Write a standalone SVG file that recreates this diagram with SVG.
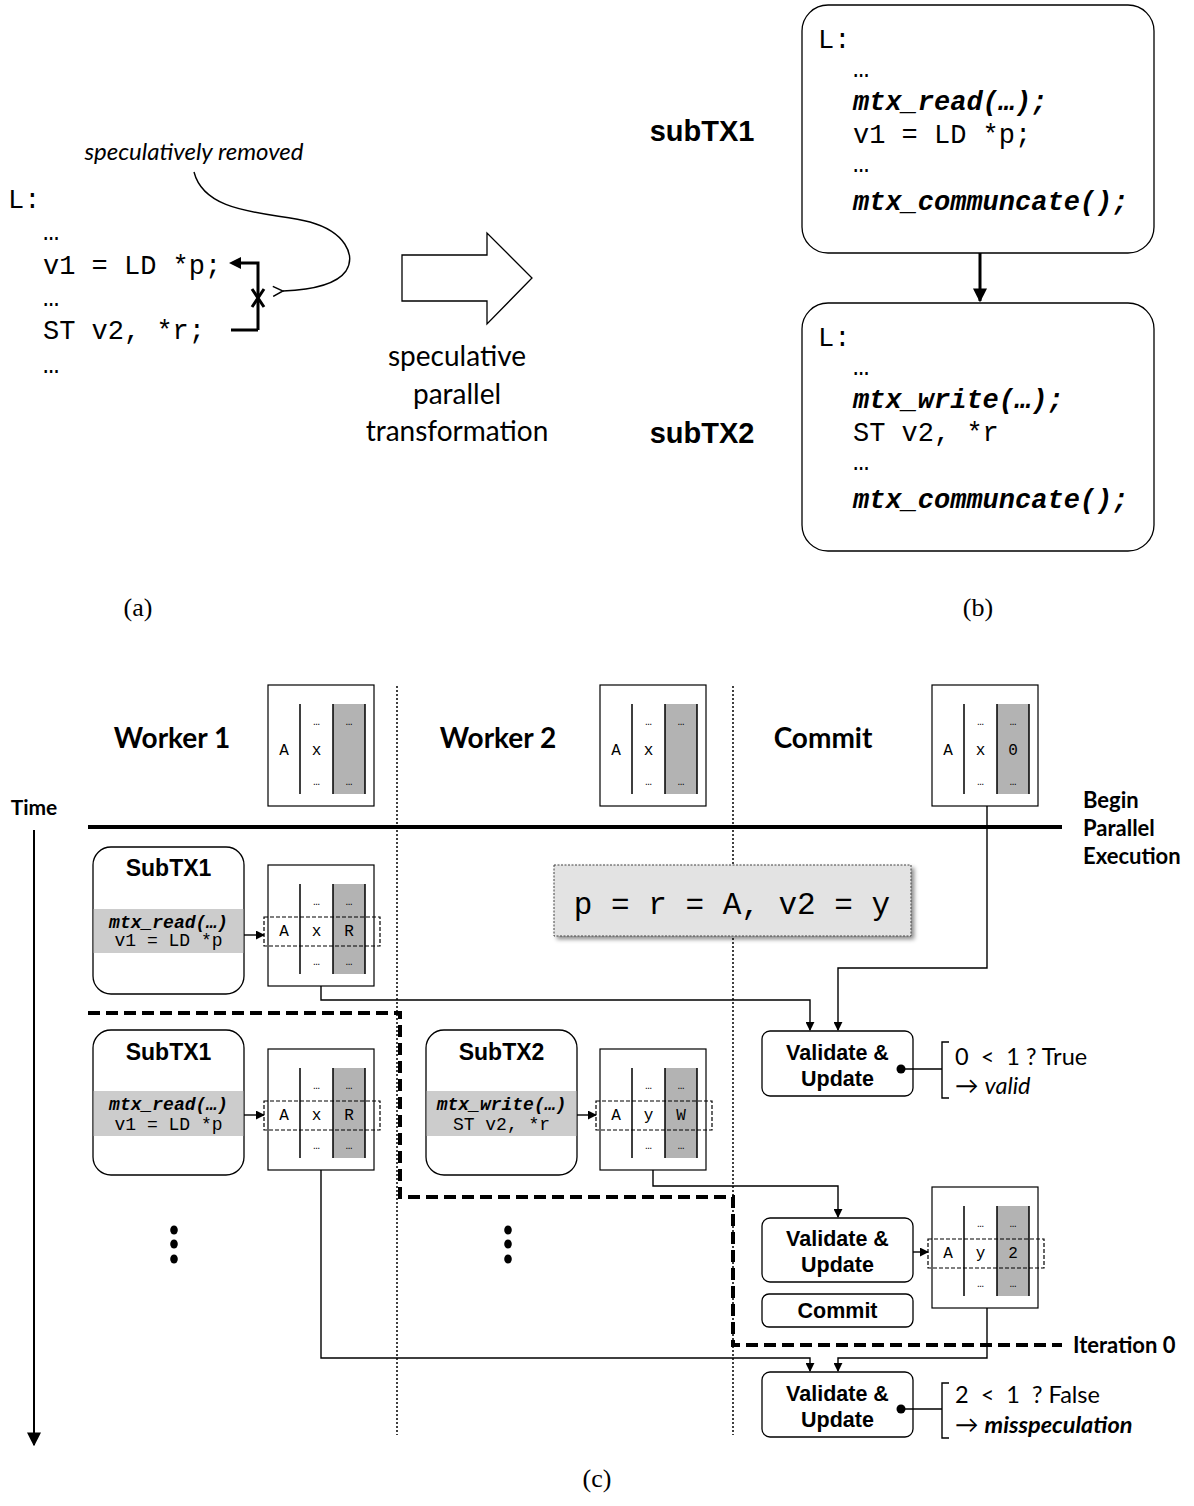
<svg xmlns="http://www.w3.org/2000/svg" xmlns:xlink="http://www.w3.org/1999/xlink" width="1194" height="1506" viewBox="0 0 1194 1506">
  <style>
    .code { font-family: "Liberation Mono", "Courier New", monospace; fill: #000; }
    .bi { font-weight: bold; font-style: italic; }
    .cal { font-family: Lato, "Open Sans", "DejaVu Sans", sans-serif; fill: #000; }
    .sans { font-family: "Liberation Sans", Arial, sans-serif; fill: #000; }
    .serif { font-family: "Liberation Serif", "Times New Roman", serif; fill: #000; }
    .cell { font-family: "Liberation Mono", "Courier New", monospace; font-size: 16px; text-anchor: middle; }
    .dots { font-family: "Liberation Mono", "Courier New", monospace; font-size: 11px; text-anchor: middle; }
    .box { fill: #fff; stroke: #000; stroke-width: 1.3; }
    .band { fill: #cccccc; }
    .line { fill: none; stroke: #000; stroke-width: 1.4; }
    .hl { fill: none; stroke: #000; stroke-width: 1.2; stroke-dasharray: 4 2; }
    .dotted { fill: none; stroke: #000; stroke-width: 1.5; stroke-dasharray: 2 2; }
    .mid { text-anchor: middle; }
  </style>
  <defs>
    <marker id="arr" viewBox="0 0 10 10" refX="9" refY="5" markerWidth="9" markerHeight="9" markerUnits="userSpaceOnUse" orient="auto">
      <path d="M0,0 L10,5 L0,10 z" fill="#000"/>
    </marker>
    <marker id="arrBig" viewBox="0 0 10 10" refX="9" refY="5" markerWidth="14" markerHeight="14" markerUnits="userSpaceOnUse" orient="auto">
      <path d="M0,0 L10,5 L0,10 z" fill="#000"/>
    </marker>
    <marker id="arrOpen" viewBox="0 0 12 12" refX="1" refY="6" markerWidth="12" markerHeight="12" markerUnits="userSpaceOnUse" orient="auto">
      <path d="M11,1 L1,6 L11,11" fill="none" stroke="#000" stroke-width="1.5"/>
    </marker>
    <filter id="shadow" x="-5%" y="-10%" width="115%" height="130%">
      <feDropShadow dx="3" dy="3" stdDeviation="2" flood-color="#000" flood-opacity="0.45"/>
    </filter>
    <!-- memory table frame: key | value | gray version column -->
    <g id="tblFrame">
      <rect x="0" y="0" width="106" height="121" fill="#fff" stroke="#000" stroke-width="1.2"/>
      <rect x="65" y="19" width="32" height="90" fill="#b3b3b3"/>
      <path d="M32,19V109 M65,19V109 M97,19V109" stroke="#000" stroke-width="1.5" fill="none"/>
      <text class="dots" x="48.5" y="40">…</text>
      <text class="dots" x="81" y="40">…</text>
      <text class="dots" x="48.5" y="100">…</text>
      <text class="dots" x="81" y="100">…</text>
    </g>
  </defs>

  <rect width="1194" height="1506" fill="#fff"/>

  <!-- ===== (a) original loop ===== -->
  <g id="code-a">
    <text class="code" font-size="27" x="8" y="208">L:</text>
    <text class="code" font-size="27" x="43" y="240">…</text>
    <text class="code" font-size="27" x="43" y="274">v1 = LD *p;</text>
    <text class="code" font-size="27" x="43" y="306">…</text>
    <text class="code" font-size="27" x="43" y="339">ST v2, *r;</text>
    <text class="code" font-size="27" x="43" y="373">…</text>
  </g>
  <g id="dependence-a">
    <path d="M258,330 H231 M258,330 V263 H240" fill="none" stroke="#000" stroke-width="3"/>
    <path d="M229,263 L241,257 L241,269 z" fill="#000"/>
    <path d="M252,289 L264,307 M264,289 L252,307" stroke="#000" stroke-width="3"/>
  </g>
  <g id="note-a">
    <text class="cal" font-size="24" font-style="italic" x="194" y="160" text-anchor="middle">speculatively removed</text>
    <path d="M194,172 C205,215 270,212 310,222 C345,232 356,255 346,271 C336,285 308,290 283,291" class="line" stroke-width="1.3" marker-end="url(#arrOpen)"/>
  </g>

  <!-- ===== transformation arrow ===== -->
  <g id="transform-arrow">
    <polygon points="402,255 487,255 487,233 532,278 487,324 487,301 402,301" fill="#fff" stroke="#000" stroke-width="1.3"/>
    <text class="cal mid" font-size="28" x="457" y="366">speculative</text>
    <text class="cal mid" font-size="28" x="457" y="404">parallel</text>
    <text class="cal mid" font-size="28" x="457" y="441">transformation</text>
  </g>

  <!-- ===== (b) split sub-transactions ===== -->
  <g id="label-subtx1">
    <text class="sans mid" font-size="29" font-weight="bold" x="702" y="141">subTX1</text>
  </g>
  <g id="label-subtx2">
    <text class="sans mid" font-size="29" font-weight="bold" x="702" y="443">subTX2</text>
  </g>
  <g id="subtx1-box">
    <rect class="box" x="802" y="5" width="352" height="248" rx="26"/>
    <text class="code" font-size="27" x="818" y="48">L:</text>
    <text class="code" font-size="27" x="853" y="77">…</text>
    <text class="code bi" font-size="27" x="853" y="110">mtx_read(…);</text>
    <text class="code" font-size="27" x="853" y="143">v1 = LD *p;</text>
    <text class="code" font-size="27" x="853" y="172">…</text>
    <text class="code bi" font-size="27" x="853" y="210">mtx_communcate();</text>
  </g>
  <g id="subtx2-box">
    <rect class="box" x="802" y="303" width="352" height="248" rx="26"/>
    <text class="code" font-size="27" x="818" y="346">L:</text>
    <text class="code" font-size="27" x="853" y="375">…</text>
    <text class="code bi" font-size="27" x="853" y="408">mtx_write(…);</text>
    <text class="code" font-size="27" x="853" y="441">ST v2, *r</text>
    <text class="code" font-size="27" x="853" y="470">…</text>
    <text class="code bi" font-size="27" x="853" y="508">mtx_communcate();</text>
  </g>

  <!-- captions -->
  <text class="serif mid" font-size="26" x="138" y="616">(a)</text>
  <text class="serif mid" font-size="26" x="978" y="616">(b)</text>
  <text class="serif mid" font-size="26" x="597" y="1487">(c)</text>

  <!-- ===== (c) execution timeline ===== -->
  <g id="lanes">
    <path class="dotted" d="M397,686 V1435 M733,686 V1435"/>
    <path d="M88,827 H1062" stroke="#000" stroke-width="4"/>
    <path d="M88,1013 H400 V1197 H733 V1345 H1062" fill="none" stroke="#000" stroke-width="4" stroke-dasharray="12 6"/>
  </g>

  <g id="headers">
    <text class="cal mid" font-size="28" font-weight="bold" x="172" y="748">Worker 1</text>
    <text class="cal mid" font-size="28" font-weight="bold" x="498" y="748">Worker 2</text>
    <text class="cal mid" font-size="28" font-weight="bold" x="823" y="748">Commit</text>
    <text class="cal mid" font-size="21" font-weight="bold" x="34" y="815">Time</text>
    <text class="cal" font-size="22" font-weight="bold" x="1083" y="808">Begin</text>
    <text class="cal" font-size="22" font-weight="bold" x="1083" y="836">Parallel</text>
    <text class="cal" font-size="22" font-weight="bold" x="1083" y="864">Execution</text>
    <text class="cal" font-size="22" font-weight="bold" x="1073" y="1353">Iteration 0</text>
  </g>

  <g id="w1-table-0" transform="translate(268,685)">
    <use xlink:href="#tblFrame"/>
    <text class="cell" x="16" y="70">A</text>
    <text class="cell" x="48.5" y="70">x</text>
  </g>
  <g id="w2-table-0" transform="translate(600,685)">
    <use xlink:href="#tblFrame"/>
    <text class="cell" x="16" y="70">A</text>
    <text class="cell" x="48.5" y="70">x</text>
  </g>
  <g id="commit-table-0" transform="translate(932,685)">
    <use xlink:href="#tblFrame"/>
    <text class="cell" x="16" y="70">A</text>
    <text class="cell" x="48.5" y="70">x</text>
    <text class="cell" x="81" y="70">0</text>
  </g>

  <g id="init-values">
    <rect x="554" y="865" width="357" height="71" fill="#e3e3e3" stroke="#444" stroke-width="1" stroke-dasharray="2 1.5" filter="url(#shadow)"/>
    <text class="code mid" font-size="31" x="732" y="914">p = r = A, v2 = y</text>
  </g>

  <!-- worker 1, first sub-transaction -->
  <g id="w1-subtx1-a">
    <rect class="box" x="93" y="847" width="151" height="147" rx="18"/>
    <rect class="band" x="93.7" y="909" width="149.6" height="44"/>
    <text class="sans mid" font-size="23" font-weight="bold" x="168.5" y="876">SubTX1</text>
    <text class="code bi mid" font-size="18" x="168.5" y="928">mtx_read(…)</text>
    <text class="code mid" font-size="18" x="168.5" y="946">v1 = LD *p</text>
  </g>
  <g id="w1-table-1" transform="translate(268,865)">
    <use xlink:href="#tblFrame"/>
    <rect class="hl" x="-4" y="52" width="116" height="29"/>
    <text class="cell" x="16" y="71">A</text>
    <text class="cell" x="48.5" y="71">x</text>
    <text class="cell" x="81" y="71">R</text>
  </g>

  <!-- second row -->
  <g id="w1-subtx1-b">
    <rect class="box" x="93" y="1030" width="151" height="145" rx="18"/>
    <rect class="band" x="93.7" y="1091" width="149.6" height="45"/>
    <text class="sans mid" font-size="23" font-weight="bold" x="168.5" y="1060">SubTX1</text>
    <text class="code bi mid" font-size="18" x="168.5" y="1110">mtx_read(…)</text>
    <text class="code mid" font-size="18" x="168.5" y="1130">v1 = LD *p</text>
  </g>
  <g id="w1-table-2" transform="translate(268,1049)">
    <use xlink:href="#tblFrame"/>
    <rect class="hl" x="-4" y="52" width="116" height="29"/>
    <text class="cell" x="16" y="71">A</text>
    <text class="cell" x="48.5" y="71">x</text>
    <text class="cell" x="81" y="71">R</text>
  </g>
  <g id="w2-subtx2">
    <rect class="box" x="426" y="1030" width="151" height="145" rx="18"/>
    <rect class="band" x="426.7" y="1091" width="149.6" height="45"/>
    <text class="sans mid" font-size="23" font-weight="bold" x="501.5" y="1060">SubTX2</text>
    <text class="code bi mid" font-size="18" x="501.5" y="1110">mtx_write(…)</text>
    <text class="code mid" font-size="18" x="501.5" y="1130">ST v2, *r</text>
  </g>
  <g id="w2-table-1" transform="translate(600,1049)">
    <use xlink:href="#tblFrame"/>
    <rect class="hl" x="-4" y="52" width="116" height="29"/>
    <text class="cell" x="16" y="71">A</text>
    <text class="cell" x="48.5" y="71">y</text>
    <text class="cell" x="81" y="71">W</text>
  </g>

  <!-- continuation marks -->
  <g id="w1-more">
    <ellipse cx="174" cy="1230" rx="3.8" ry="4.5"/>
    <ellipse cx="174" cy="1244" rx="3.8" ry="4.5"/>
    <ellipse cx="174" cy="1259" rx="3.8" ry="4.5"/>
  </g>
  <g id="w2-more">
    <ellipse cx="508" cy="1230" rx="3.8" ry="4.5"/>
    <ellipse cx="508" cy="1244" rx="3.8" ry="4.5"/>
    <ellipse cx="508" cy="1259" rx="3.8" ry="4.5"/>
  </g>

  <!-- commit lane -->
  <g id="validate-1">
    <rect class="box" x="762" y="1031" width="151" height="65" rx="8"/>
    <text class="sans mid" font-size="21.5" font-weight="bold" x="837.5" y="1060">Validate &amp;</text>
    <text class="sans mid" font-size="21.5" font-weight="bold" x="837.5" y="1086">Update</text>
  </g>
  <g id="result-1">
    <circle cx="901" cy="1069" r="4.5"/>
    <path class="line" d="M901,1069 H942 M949,1042 H942 V1098 H949"/>
    <text class="cal" font-size="23.5" x="955" y="1065" xml:space="preserve">0  &lt;  1 ? True</text>
    <text class="cal" font-size="23.5" x="955" y="1094">→ <tspan font-style="italic">valid</tspan></text>
  </g>
  <g id="validate-2">
    <rect class="box" x="762" y="1218" width="151" height="64" rx="8"/>
    <text class="sans mid" font-size="21.5" font-weight="bold" x="837.5" y="1246">Validate &amp;</text>
    <text class="sans mid" font-size="21.5" font-weight="bold" x="837.5" y="1272">Update</text>
  </g>
  <g id="commit-table-1" transform="translate(932,1187)">
    <use xlink:href="#tblFrame"/>
    <rect class="hl" x="-4" y="52" width="116" height="29"/>
    <text class="cell" x="16" y="71">A</text>
    <text class="cell" x="48.5" y="71">y</text>
    <text class="cell" x="81" y="71">2</text>
  </g>
  <g id="commit-step">
    <rect class="box" x="762" y="1294" width="151" height="33" rx="7"/>
    <text class="sans mid" font-size="21.5" font-weight="bold" x="837.5" y="1318">Commit</text>
  </g>
  <g id="validate-3">
    <rect class="box" x="762" y="1372" width="151" height="65" rx="8"/>
    <text class="sans mid" font-size="21.5" font-weight="bold" x="837.5" y="1401">Validate &amp;</text>
    <text class="sans mid" font-size="21.5" font-weight="bold" x="837.5" y="1427">Update</text>
  </g>
  <g id="result-3">
    <circle cx="901" cy="1409" r="4.5"/>
    <path class="line" d="M901,1409 H942 M949,1383 H942 V1438 H949"/>
    <text class="cal" font-size="23.5" x="955" y="1403" xml:space="preserve">2  &lt;  1  ? False</text>
    <text class="cal" font-size="23.5" x="955" y="1433">→ <tspan font-weight="bold" font-style="italic">misspeculation</tspan></text>
  </g>

  <!-- connectors -->
  <g id="connectors">
    <path d="M980,253 V301" fill="none" stroke="#000" stroke-width="3" marker-end="url(#arrBig)"/>
    <path d="M34,830 V1445" fill="none" stroke="#000" stroke-width="2" marker-end="url(#arrBig)"/>
    <path class="line" d="M244,935 H264" marker-end="url(#arr)"/>
    <path class="line" d="M244,1115 H264" marker-end="url(#arr)"/>
    <path class="line" d="M577,1115 H596" marker-end="url(#arr)"/>
    <path class="line" d="M913,1252 H928" marker-end="url(#arr)"/>
    <path class="line" d="M987,806 V968 H838 V1030" marker-end="url(#arr)"/>
    <path class="line" d="M321,986 V1000 H810 V1030" marker-end="url(#arr)"/>
    <path class="line" d="M653,1170 V1186 H838 V1217" marker-end="url(#arr)"/>
    <path class="line" d="M987,1308 V1358 H838 V1371" marker-end="url(#arr)"/>
    <path class="line" d="M321,1170 V1358 H810 V1371" marker-end="url(#arr)"/>
  </g>
</svg>
